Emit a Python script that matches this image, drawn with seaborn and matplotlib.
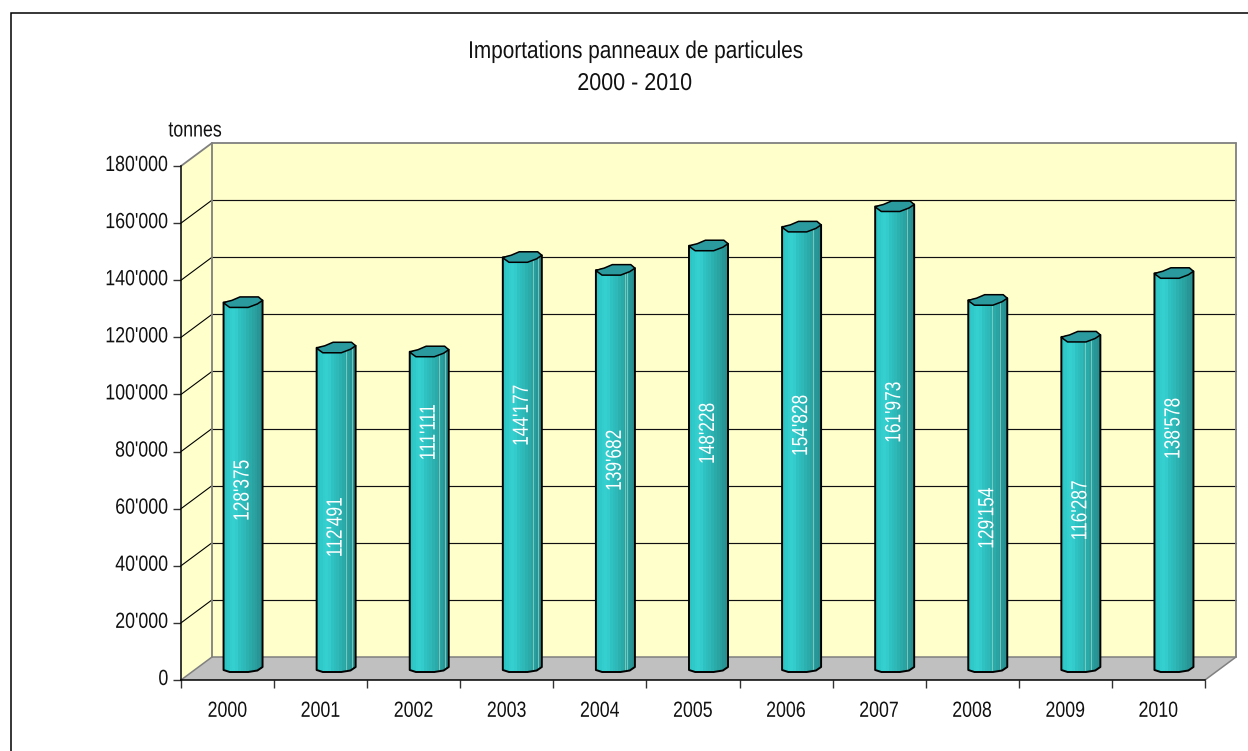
import numpy as np
import pandas as pd
import matplotlib
matplotlib.use("Agg")
import matplotlib.pyplot as plt
import matplotlib.patheffects as pe
from matplotlib.colors import LinearSegmentedColormap
from matplotlib.patches import Polygon, Rectangle
from matplotlib.path import Path
from matplotlib.transforms import Affine2D, IdentityTransform, ScaledTranslation, blended_transform_factory
import seaborn as sns

# ---- data
years = ["2000", "2001", "2002", "2003", "2004", "2005", "2006", "2007", "2008", "2009", "2010"]
tonnes = [128375, 112491, 111111, 144177, 139682, 148228, 154828, 161973, 129154, 116287, 138578]
y_ticks = [0, 20000, 40000, 60000, 80000, 100000, 120000, 140000, 160000, 180000]
title_lines = ["Importations panneaux de particules", "2000 - 2010"]
unit_text = "tonnes"

# ---- layout (image pixels)
W, H = 1248, 751
X0, X1, Y0, Y1 = 181, 1205, 680, 166
DEPTH_X, DEPTH_Y = 31, 23
BAR_DX, BAR_DY = 15.5, 11
BAR_W = 39
label_centre_px = [490, 527, 432, 415, 460, 433, 425, 412, 518, 510, 428]
highlight_px = [[], [29, 35], [29, 35], [30, 35], [29, 31], [], [31], [32], [24, 32], [24, 30], []]

sns.set_theme(style="white")
plt.rcParams["font.family"] = ["Liberation Sans"]
TXT = "#111111"


class Squeeze(pe.AbstractPathEffect):
    """Narrow a real text horizontally, as no narrow family is installed."""

    def __init__(self, factor, anchor="center"):
        super().__init__()
        self.factor = factor
        self.anchor = anchor

    def draw_path(self, renderer, gc, tpath, affine, rgbFace=None):
        x = tpath.vertices[:, 0]
        a = {"center": (x.min() + x.max()) / 2, "right": x.max(), "left": x.min()}[self.anchor]
        squeezed = Affine2D().translate(-a, 0).scale(self.factor, 1).translate(a, 0) + affine
        renderer.draw_path(gc, tpath, squeezed, rgbFace)


fig = plt.figure(figsize=(W / 100, H / 100), dpi=100, facecolor="white")
ax = fig.add_axes([X0 / W, (H - Y0) / H, (X1 - X0) / W, (Y0 - Y1) / H])
ax.patch.set_visible(False)

df = pd.DataFrame({"annee": years, "tonnes": tonnes})
sns.barplot(data=df, x="annee", y="tonnes", color="#2FB8B8", width=37 / 93.09,
            saturation=1, ax=ax, zorder=5, linewidth=0)
ax.set_xlim(-0.5, len(years) - 0.5)
ax.set_ylim(0, 180000)
ax.set_xlabel("")
ax.set_ylabel("")

ID = IdentityTransform()


def P(x, v, dx=0.0, dy=0.0):
    px, py = ax.transData.transform((x, v))
    return (px + dx, py + dy)


def poly(points, **kw):
    kw.setdefault("clip_on", False)
    p = Polygon(points, closed=True, transform=ID, **kw)
    ax.add_patch(p)
    return p


def seg(a, b, **kw):
    ax.plot([a[0], b[0]], [a[1], b[1]], transform=ID, clip_on=False,
            solid_capstyle="round", **kw)


L, R = -0.5, len(years) - 0.5
TOP = 180000
WALL = "#FFFFCC"
GREY = "#808080"

# walls and floor
poly([P(L, 0), P(L, TOP), P(L, TOP, DEPTH_X, DEPTH_Y), P(L, 0, DEPTH_X, DEPTH_Y)],
     facecolor=WALL, edgecolor="none", zorder=1)
poly([P(L, TOP, DEPTH_X, DEPTH_Y), P(R, TOP, DEPTH_X, DEPTH_Y),
      P(R, 0, DEPTH_X, DEPTH_Y), P(L, 0, DEPTH_X, DEPTH_Y)],
     facecolor=WALL, edgecolor="none", zorder=1)
poly([P(L, 0), P(R, 0), P(R, 0, DEPTH_X, DEPTH_Y), P(L, 0, DEPTH_X, DEPTH_Y)],
     facecolor="#C0C0C0", edgecolor="none", zorder=1)

# grid on the side and back wall
for v in y_ticks[1:-1]:
    seg(P(L, v), P(L, v, DEPTH_X, DEPTH_Y), color="#000000", lw=0.8, zorder=2)
    seg(P(L, v, DEPTH_X, DEPTH_Y), P(R, v, DEPTH_X, DEPTH_Y), color="#111111", lw=0.85, zorder=2)

# wall borders
seg(P(L, TOP), P(L, TOP, DEPTH_X, DEPTH_Y), color=GREY, lw=1.3, zorder=3)
seg(P(L, 0), P(L, 0, DEPTH_X, DEPTH_Y), color=GREY, lw=1.1, zorder=3)
seg(P(R, 0), P(R, 0, DEPTH_X, DEPTH_Y), color=GREY, lw=1.1, zorder=3)
seg(P(L, TOP, DEPTH_X, DEPTH_Y), P(R, TOP, DEPTH_X, DEPTH_Y), color=GREY, lw=1.3, zorder=3)
seg(P(L, TOP, DEPTH_X, DEPTH_Y), P(L, 0, DEPTH_X, DEPTH_Y), color=GREY, lw=1.3, zorder=3)
seg(P(R, TOP, DEPTH_X, DEPTH_Y), P(R, 0, DEPTH_X, DEPTH_Y), color=GREY, lw=1.3, zorder=3)
seg(P(L, 0, DEPTH_X, DEPTH_Y), P(R, 0, DEPTH_X, DEPTH_Y), color=GREY, lw=1.1, zorder=3)

# cylinders
bar_shift = ScaledTranslation(BAR_DX / 100, BAR_DY / 100, fig.dpi_scale_trans)
for cont in ax.containers:
    for b in cont:
        b.set_transform(ax.transData + bar_shift)
        b.set_clip_on(False)

cmap = LinearSegmentedColormap.from_list(
    "cyl",
    [(0.0, "#2DC4C4"), (0.12, "#33CDCD"), (0.28, "#35D0D0"), (0.36, "#30C4C4"),
     (0.55, "#2EB8B8"), (0.72, "#2BA8A8"), (0.86, "#2A9C9C"), (1.0, "#279090")], N=14)
grad = np.linspace(0, 1, 14).reshape(1, -1)
hw = BAR_W / 2
k = BAR_W / 38
top_shape = [(-19, -0.5), (-15, 1), (-11, 2), (-3, 5.5), (15, 5.5), (19, 2),
             (14, -1.5), (5, -5), (-13, -5)]
bottom_shape = [(19, 2), (14, -1.5), (5, -3), (-13, -3), (-19, -1)]

for i, v in enumerate(tonnes):
    cx, cy_top = P(i, v, BAR_DX, BAR_DY)
    _, cy_bot = P(i, 0, BAR_DX, BAR_DY)
    body = [(cx - hw, cy_top), (cx + hw, cy_top + 2)]
    body += [(cx + x * k, cy_bot + y) for x, y in bottom_shape]
    im = ax.imshow(grad, cmap=cmap, aspect="auto", interpolation="nearest", transform=ID,
                   extent=[cx - hw, cx + hw, cy_bot - 7, cy_top + 3], zorder=6)
    clip = Path(body + [body[0]], closed=True)
    im.set_clip_path(clip, ID)
    for off in highlight_px[i]:
        ax.plot([cx - hw + off] * 2, [cy_bot - 1, cy_top], transform=ID, color="#86CFC4",
                lw=0.6, zorder=6.5, clip_on=False)
    poly(body, facecolor="none", edgecolor="black", lw=1.4, joinstyle="round", zorder=7)
    poly([(cx + x * k, cy_top + y) for x, y in top_shape], facecolor="#2A9A9E",
         edgecolor="black", lw=1.1, joinstyle="round", zorder=8)

# value labels
lab_tr = blended_transform_factory(ax.transData + bar_shift, ID)
for i, v in enumerate(tonnes):
    ax.text(i, H - label_centre_px[i], f"{v:,}".replace(",", "'"), transform=lab_tr,
            rotation=90, ha="center", va="center", color="white", fontsize=15.8,
            zorder=9, clip_on=False, path_effects=[Squeeze(0.79)])

ax.set_xlim(L, R)
ax.set_ylim(0, TOP)

# axes
for s in ("top", "right"):
    ax.spines[s].set_visible(False)
for s in ("left", "bottom"):
    ax.spines[s].set_color("black")
    ax.spines[s].set_linewidth(1.1)
    ax.spines[s].set_zorder(4)
ax.set_yticks(y_ticks)
ax.set_yticklabels([f"{v:,}".replace(",", "'") for v in y_ticks], fontsize=15.8, color=TXT)
ax.tick_params(axis="y", length=5.8, width=1, color="#333333", pad=3.2, left=True)
ax.set_xticks(range(len(years)))
ax.set_xticklabels(years, fontsize=15.8, color=TXT)
ax.tick_params(axis="x", which="major", length=0, pad=15)
ax.set_xticks(np.arange(L, R + 0.5), minor=True)
ax.tick_params(axis="x", which="minor", length=5.8, width=1, color="#333333", bottom=True)
up = ScaledTranslation(0, 3 / 100, fig.dpi_scale_trans)
for t in ax.get_yticklabels():
    t.set_transform(t.get_transform() + up)
    t.set_path_effects([Squeeze(0.81, "right")])
for t in ax.get_xticklabels():
    t.set_path_effects([Squeeze(0.81)])

# text
for line, ypx, f in zip(title_lines, (52, 84), (0.855, 0.885)):
    fig.text(635 / W, 1 - ypx / H, line, ha="center", va="center", fontsize=17.5, color=TXT,
             path_effects=[Squeeze(f)])
fig.text(195 / W, 1 - 131 / H, unit_text, ha="center", va="center", fontsize=15.8, color=TXT,
         path_effects=[Squeeze(0.81)])

# outer frame, its right and lower sides fall off the picture
fig.add_artist(Rectangle((10.5 / W, -0.02), 1.1, 1 - 12.5 / H + 0.02, transform=fig.transFigure,
                         facecolor="none", edgecolor="black", lw=1.1, zorder=0))

fig.savefig("out.png", dpi=100)
